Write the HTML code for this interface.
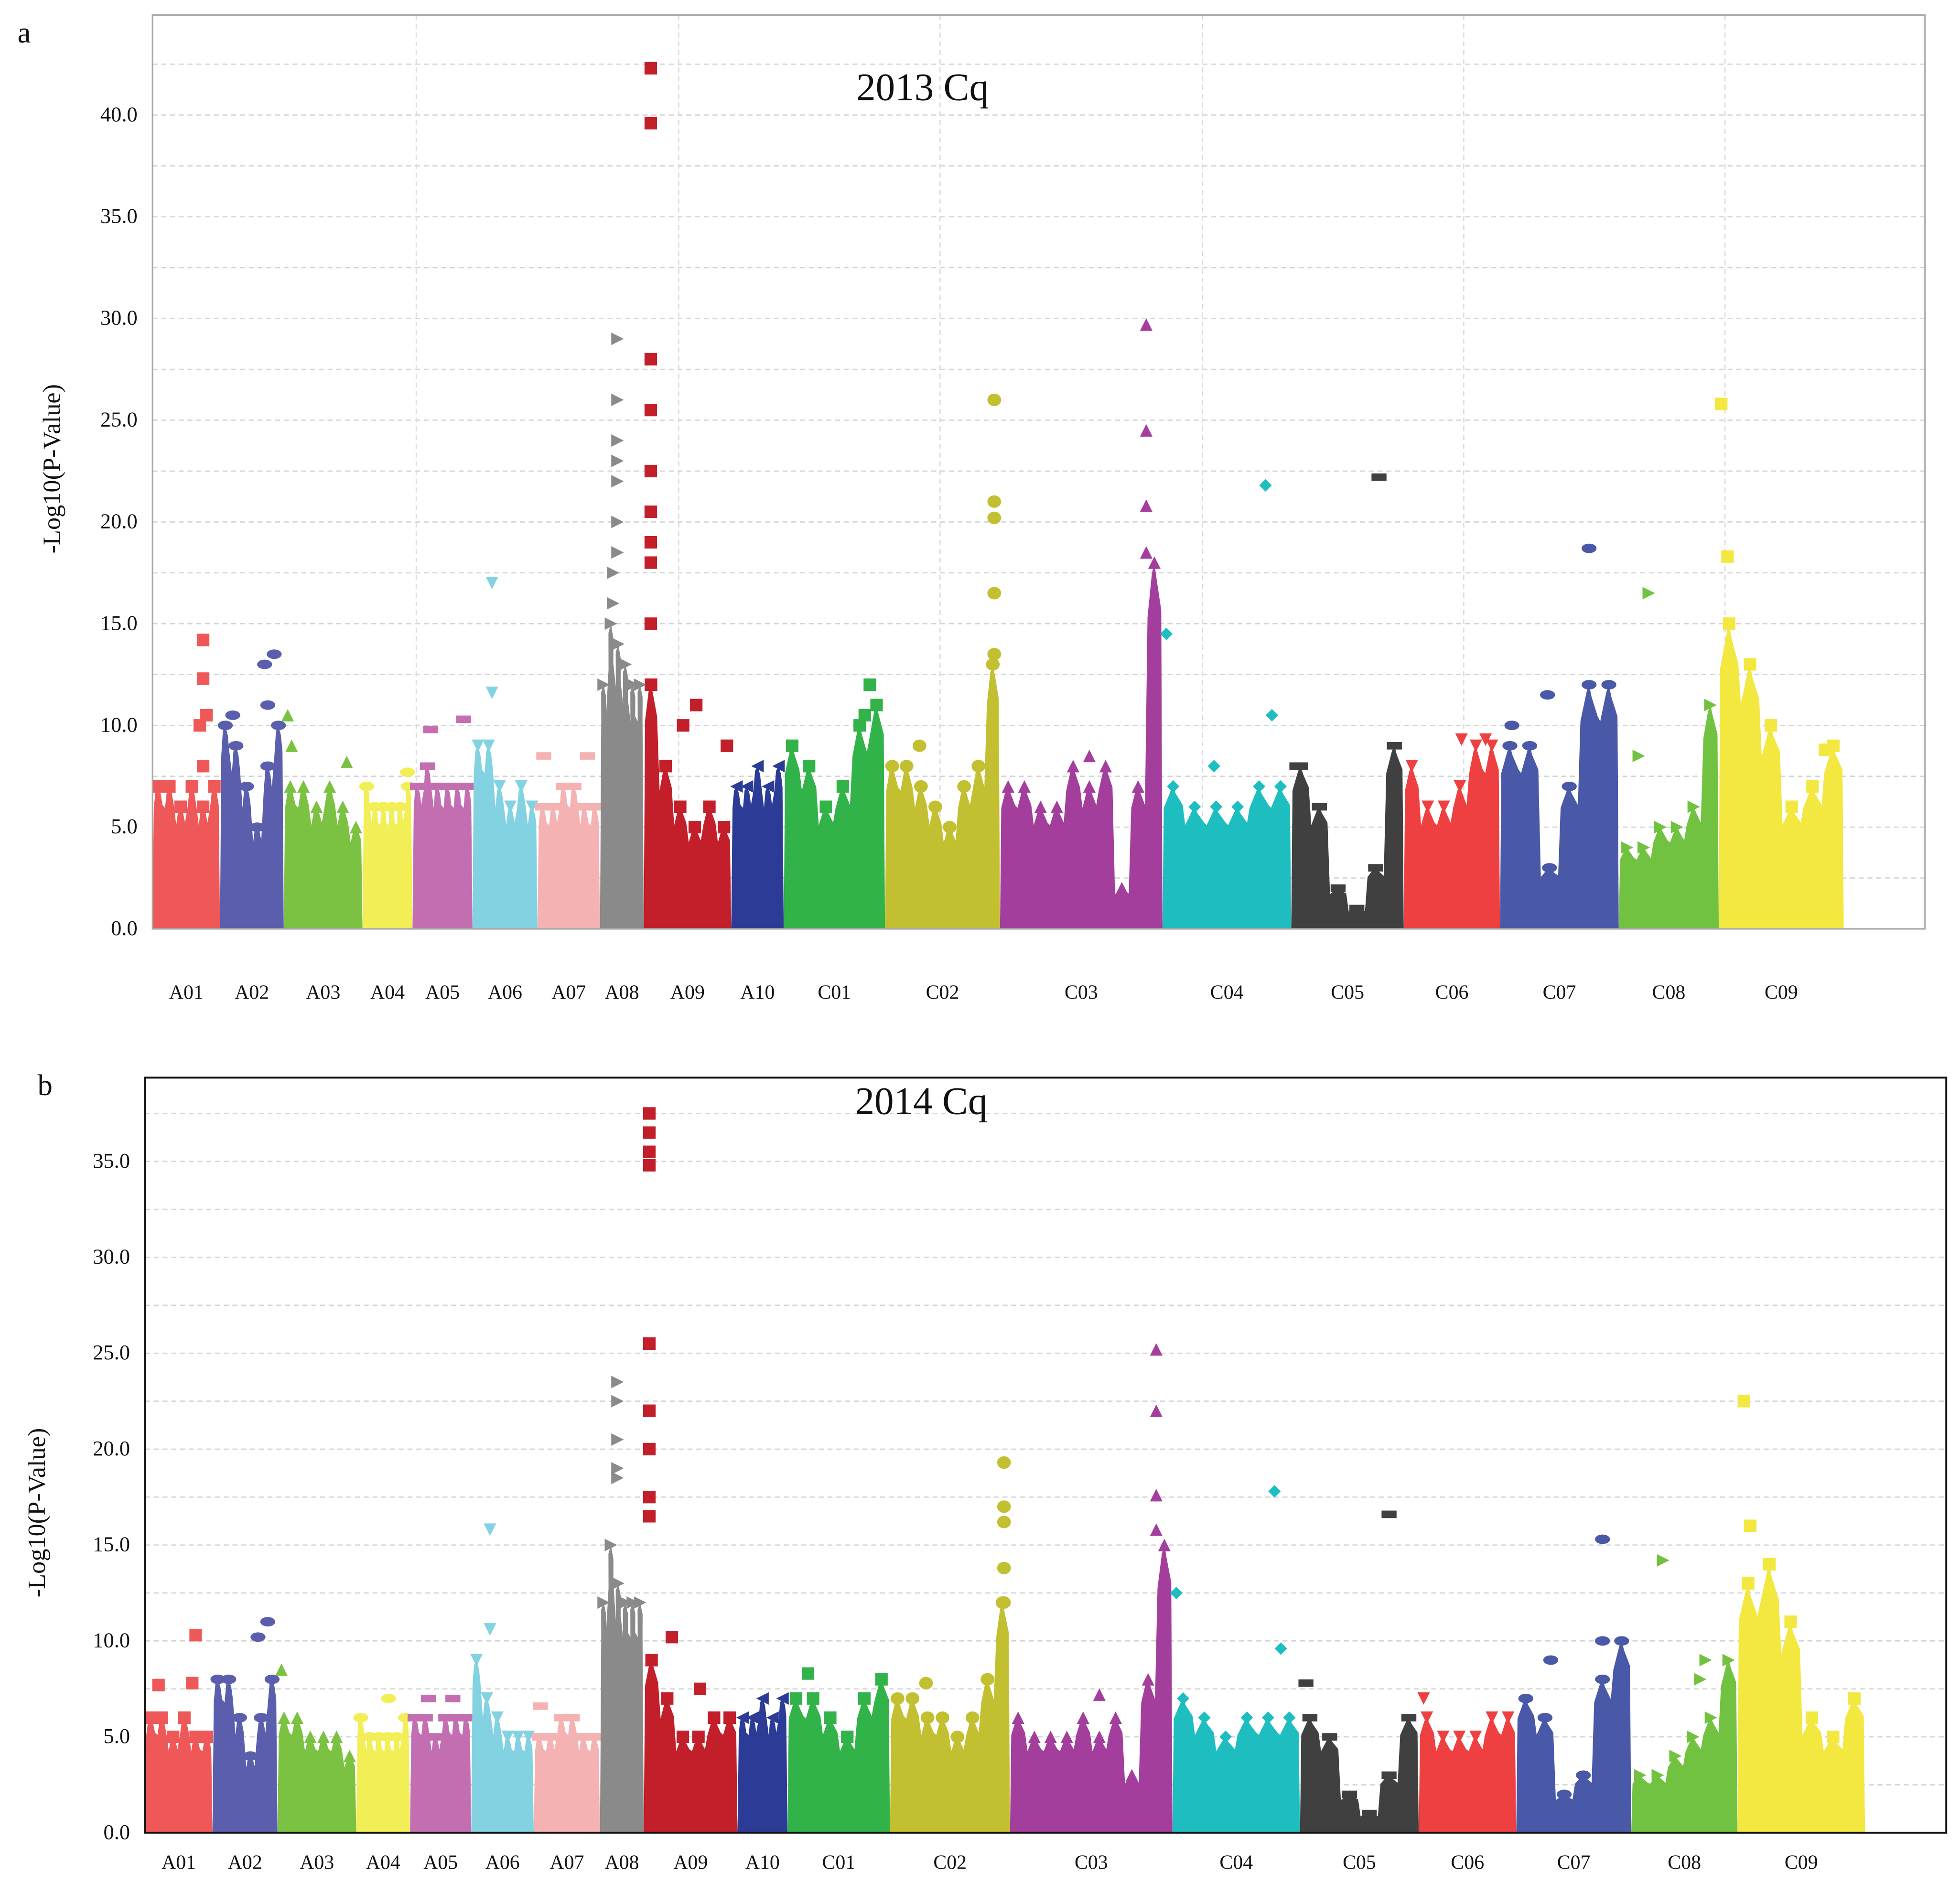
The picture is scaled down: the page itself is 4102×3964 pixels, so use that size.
<!DOCTYPE html>
<html><head><meta charset="utf-8">
<style>html,body{margin:0;padding:0;background:#fff;}svg{display:block;}</style>
</head><body>
<svg id="chart" width="4102" height="3964" viewBox="0 0 1568 1515" preserveAspectRatio="none" xmlns="http://www.w3.org/2000/svg" font-family="'Liberation Serif', serif">
</svg>
<script>
const chromNames = ["A01","A02","A03","A04","A05","A06","A07","A08","A09","A10","C01","C02","C03","C04","C05","C06","C07","C08","C09"];
const chromColors = ["#ee5858","#5a5eac","#7cc242","#f2ee56","#c46eb2","#82d2e2","#f5b2b2","#8a8a8a","#c21f2a","#2c3c96","#32b34a","#c2c030","#a43e9c","#1ebec0","#404040","#ee4040","#4a58a8","#72c242","#f2e840"];
const chromShapes = ["sq","ell","tri","ell","dash","tdn","dash","trr","sq","trl","sq","circ","tri","dia","dash","tdn","ell","trr","sq"];
const yTicksA = ["0.0","5.0","10.0","15.0","20.0","25.0","30.0","35.0","40.0"];
const yTicksB = ["0.0","5.0","10.0","15.0","20.0","25.0","30.0","35.0"];
// envelope heights (-log10 p) per chromosome, 2013
const bodyA = [[7,7,6,7,6,7],[10,9,7,5,8,10],[7,7,6,7,6,5],[7,6,6,6,6,7],[7,8,7,7,7,7],[9,9,7,6,7,6],[6,6,7,7,6,6],[12,15,14,13,12,12],[12,8,6,5,6,5],[7,7,8,7,8],[9,8,6,7,10,11],[8,8,7,6,5,7,8,13],[7,7,6,6,8,7,8,2,7,18],[7,6,6,6,7,7],[8,6,2,1,3,9],[8,6,6,7,9,9],[9,9,3,7,12,12],[4,4,5,5,6,11],[15,13,10,6,7,9]];
// top hits [chrom index, relative position, value], 2013
const hitsA = [[0,0.75,14.2],[0,0.75,12.3],[0,0.8,10.5],[0,0.7,10],[0,0.75,8],[1,0.7,13],[1,0.85,13.5],[1,0.75,11],[1,0.2,10.5],[2,0.05,10.5],[2,0.1,9],[2,0.8,8.2],[3,0.9,7.7],[4,0.3,9.8],[4,0.85,10.3],[5,0.3,17],[5,0.3,11.6],[6,0.1,8.5],[6,0.8,8.5],[7,0.4,29],[7,0.4,26],[7,0.4,24],[7,0.4,23],[7,0.4,22],[7,0.4,20],[7,0.3,17.5],[7,0.3,16],[7,0.4,18.5],[8,0.08,42.3],[8,0.08,39.6],[8,0.08,28],[8,0.08,25.5],[8,0.08,22.5],[8,0.08,20.5],[8,0.08,19],[8,0.08,18],[8,0.08,15],[8,0.6,11],[8,0.45,10],[8,0.95,9],[10,0.85,12],[10,0.8,10.5],[11,0.95,26],[11,0.95,21],[11,0.95,20.2],[11,0.95,16.5],[11,0.95,13.5],[11,0.3,9],[12,0.9,29.7],[12,0.9,24.5],[12,0.9,20.8],[12,0.9,18.5],[12,0.55,8.5],[13,0.03,14.5],[13,0.8,21.8],[13,0.85,10.5],[13,0.4,8],[14,0.78,22.2],[14,0.05,8],[15,0.6,9.3],[15,0.85,9.3],[16,0.75,18.7],[16,0.1,10],[16,0.4,11.5],[17,0.3,16.5],[17,0.2,8.5],[18,0.02,25.8],[18,0.07,18.3],[18,0.85,8.8]];
// 2014
const bodyB = [[6,6,5,6,5,5],[8,8,6,4,6,8],[6,6,5,5,5,4],[6,5,5,5,5,6],[6,6,5,6,6,6],[9,7,6,5,5,5],[5,5,6,6,5,5],[12,15,13,12,12,12],[9,7,5,5,6,6],[6,6,7,6,7],[7,7,6,5,7,8],[7,7,6,6,5,6,8,12],[6,5,5,5,6,5,6,3,8,15],[7,6,5,6,6,6],[6,5,2,1,3,6],[6,5,5,5,6,6],[7,6,2,3,8,10],[3,3,4,5,6,9],[13,14,11,6,5,7]];
const hitsB = [[0,0.75,10.3],[0,0.7,7.8],[0,0.2,7.7],[1,0.7,10.2],[1,0.85,11],[2,0.05,8.5],[3,0.6,7],[4,0.3,7],[4,0.7,7],[5,0.3,15.8],[5,0.3,10.6],[6,0.1,6.6],[7,0.4,23.5],[7,0.4,22.5],[7,0.4,20.5],[7,0.4,19],[7,0.4,18.5],[8,0.06,37.5],[8,0.06,36.5],[8,0.06,35.5],[8,0.06,34.8],[8,0.06,25.5],[8,0.06,22],[8,0.06,20],[8,0.06,17.5],[8,0.06,16.5],[8,0.3,10.2],[8,0.6,7.5],[10,0.2,8.3],[11,0.95,19.3],[11,0.95,17],[11,0.95,16.2],[11,0.95,13.8],[11,0.95,12],[11,0.3,7.8],[12,0.9,25.2],[12,0.9,22],[12,0.9,17.6],[12,0.9,15.8],[12,0.55,7.2],[13,0.03,12.5],[13,0.8,17.8],[13,0.85,9.6],[14,0.05,7.8],[14,0.75,16.6],[15,0.05,7],[16,0.75,15.3],[16,0.3,9],[16,0.75,10],[17,0.3,14.2],[17,0.65,8],[17,0.7,9],[18,0.05,22.5],[18,0.1,16],[18,0.25,14]];

const NS="http://www.w3.org/2000/svg";
const svg=document.getElementById('chart');
function mk(tag,attrs,parent){const e=document.createElementNS(NS,tag);for(const k in attrs)e.setAttribute(k,attrs[k]);(parent||svg).appendChild(e);return e;}

function panel(cfg){
  const g=mk('g',{});
  
  
  const yScale=v=>cfg.y0-v*cfg.ppu;
  for(let v=2.5;cfg.y0-v*cfg.ppu>cfg.top+5;v+=2.5){
    const l=mk('line',{x1:cfg.x0,x2:cfg.x1,y1:yScale(v),y2:yScale(v),stroke:'#d4d4d4','stroke-width':1,'stroke-dasharray':'4,3'},g);
    
    
  }
  cfg.vgrid.forEach(x=>{
    const l=mk('line',{x1:x,x2:x,y1:cfg.top,y2:cfg.y0,stroke:'#dcdcdc','stroke-width':1,'stroke-dasharray':'4,3'},g);
    
    
  });
  cfg.body.forEach((env,ci)=>{
    const xa=cfg.bounds[ci],xb=cfg.bounds[ci+1];
    const n=env.length;let pts=[[xa,cfg.y0]];
    env.forEach((v,i)=>{
      const xl=xa+(xb-xa)*i/n,xr=xa+(xb-xa)*(i+1)/n,xm=(xl+xr)/2;
      pts.push([xl+1,yScale(v*0.85)]);pts.push([xm-2,yScale(v*0.97)]);pts.push([xm,yScale(v)]);pts.push([xm+2,yScale(v*0.95)]);pts.push([xr-1,yScale(v*0.87)]);
    });
    pts.push([xb,cfg.y0]);
    const p=mk('polygon',{points:pts.map(p=>p.join(',')).join(' '),fill:chromColors[ci]},g);
    
    
    env.forEach((v,i)=>{
      const xm=xa+(xb-xa)*(i+0.5)/n;
      const m=marker(g,chromShapes[ci],xm,yScale(v),chromColors[ci]);
      
      
    });
    const t=mk('text',{x:(xa+xb)/2,y:cfg.labelY,'font-size':16,'text-anchor':'middle',fill:'#111'},g);
    t.textContent=chromNames[ci];
    
    
  });
  cfg.hits.forEach(h=>{
    const ci=h[0],xa=cfg.bounds[ci],xb=cfg.bounds[ci+1];
    const m=marker(g,chromShapes[ci],xa+(xb-xa)*h[1],yScale(h[2]),chromColors[ci]);
    
    
  });
  const fr=mk('rect',{x:cfg.x0,y:cfg.top,width:cfg.x1-cfg.x0,height:cfg.y0-cfg.top,fill:'none',stroke:cfg.frame,'stroke-width':cfg.frameW},g);
  
  
  cfg.ticks.forEach((s,i)=>{
    const t=mk('text',{x:cfg.x0-12,y:yScale(i*5)+5,'font-size':17,'text-anchor':'end',fill:'#111'},g);
    t.textContent=s;
    
    
  });
  const yt=mk('text',{x:0,y:0,'font-size':20,'text-anchor':'middle',fill:'#111',transform:`translate(${cfg.ytX},${cfg.ytY}) rotate(-90)`},g);
  yt.textContent='-Log10(P-Value)';
  
  
  const ti=mk('text',{x:cfg.titleX,y:cfg.titleY,'font-size':31,'text-anchor':'middle',fill:'#111'},g);
  ti.textContent=cfg.title;
  
  
  const pl=mk('text',{x:cfg.letterX,y:cfg.letterY,'font-size':24,fill:'#111'},g);
  pl.textContent=cfg.letter;
  
  
}
function marker(g,shape,x,y,c){
  const s=5;
  switch(shape){
    case 'sq':return mk('rect',{x:x-s,y:y-s,width:2*s,height:2*s,fill:c},g);
    case 'ell':return mk('ellipse',{cx:x,cy:y,rx:6,ry:3.8,fill:c},g);
    case 'circ':return mk('ellipse',{cx:x,cy:y,rx:5.5,ry:5,fill:c},g);
    case 'dash':return mk('rect',{x:x-6,y:y-3,width:12,height:6,fill:c},g);
    case 'tri':return mk('polygon',{points:`${x-s},${y+s} ${x+s},${y+s} ${x},${y-s}`,fill:c},g);
    case 'tdn':return mk('polygon',{points:`${x-s},${y-s} ${x+s},${y-s} ${x},${y+s}`,fill:c},g);
    case 'trr':return mk('polygon',{points:`${x-s},${y-s} ${x-s},${y+s} ${x+s},${y}`,fill:c},g);
    case 'trl':return mk('polygon',{points:`${x+s},${y-s} ${x+s},${y+s} ${x-s},${y}`,fill:c},g);
    case 'dia':return mk('polygon',{points:`${x},${y-s} ${x+s},${y} ${x},${y+s} ${x-s},${y}`,fill:c},g);
  }
}
panel({name:'panel-a-2013',x0:122,x1:1540,top:12,y0:743,ppu:(743-92)/40,
  bounds:[122,176,227,290,330,378,430,480,515,585,627,708,800,930,1033,1123,1200,1295,1375,1475],
  vgrid:[333,543,752,962,1171,1380],body:bodyA,hits:hitsA,ticks:yTicksA,labelY:799,
  frame:'#a8a8a8',frameW:1.2,ytX:48,ytY:375,title:'2013 Cq',titleX:738,titleY:80,letter:'a',letterX:14,letterY:34});
panel({name:'panel-b-2014',x0:116,x1:1557,top:862,y0:1466,ppu:(1466-929)/35,
  bounds:[116,170,222,285,328,377,427,480,515,590,630,712,808,938,1040,1135,1213,1305,1390,1492],
  vgrid:[],body:bodyB,hits:hitsB,ticks:yTicksB,labelY:1495,
  frame:'#111',frameW:1.5,ytX:36,ytY:1210,title:'2014 Cq',titleX:737,titleY:891,letter:'b',letterX:30,letterY:876});
</script>
</body></html>
